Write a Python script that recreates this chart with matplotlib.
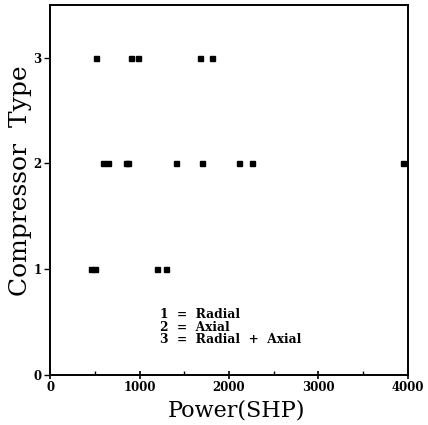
import matplotlib
matplotlib.use("Agg")
import matplotlib.pyplot as plt
from matplotlib.ticker import MultipleLocator

# compressor type vs shaft horsepower
power_radial = [456, 504, 1196, 1300]
power_axial = [597, 646, 850, 870, 1404, 1695, 2110, 2252, 3941]
power_mixed = [515, 908, 986, 1681, 1815]
type_radial = [1] * len(power_radial)
type_axial = [2] * len(power_axial)
type_mixed = [3] * len(power_mixed)

key_lines = ["1  =  Radial", "2  =  Axial", "3  =  Radial  +  Axial"]

plt.rcParams['font.family'] = ['DejaVu Serif']

fig = plt.figure(figsize=(4.28, 4.25), dpi=100)
ax = fig.add_axes([0.117, 0.1176, 0.836, 0.871])

for xs, ys in [(power_radial, type_radial), (power_axial, type_axial), (power_mixed, type_mixed)]:
    ax.plot(xs, ys, 's', color='black', ms=3.6, mec='black')

ax.set_xlim(0, 4000)
ax.set_ylim(0, 3.5)
ax.xaxis.set_major_locator(MultipleLocator(1000))
ax.xaxis.set_minor_locator(MultipleLocator(500))
ax.yaxis.set_major_locator(MultipleLocator(1))
ax.tick_params(axis='x', which='major', direction='inout', length=6, width=1.2, pad=1)
ax.tick_params(axis='x', which='minor', direction='in', length=3, width=1)
ax.tick_params(axis='y', which='major', direction='out', length=4, width=1, pad=2)
for lab in ax.get_xticklabels() + ax.get_yticklabels():
    lab.set_fontweight('bold')
    lab.set_fontsize(8.5)
for sp in ax.spines.values():
    sp.set_linewidth(1.4)

ax.set_xlabel("Power(SHP)", fontsize=16)
ax.xaxis.set_label_coords(0.52, -0.066)
ax.xaxis.label.set_va('top')
ax.set_ylabel("Compressor  Type", fontsize=18)
ax.yaxis.set_label_coords(-0.05, 0.525)

ax.text(1230, 0.63, "\n".join(key_lines), fontsize=8.8, fontweight='bold',
        va='top', ha='left', linespacing=0.95)

fig.savefig("out.png", dpi=100)
